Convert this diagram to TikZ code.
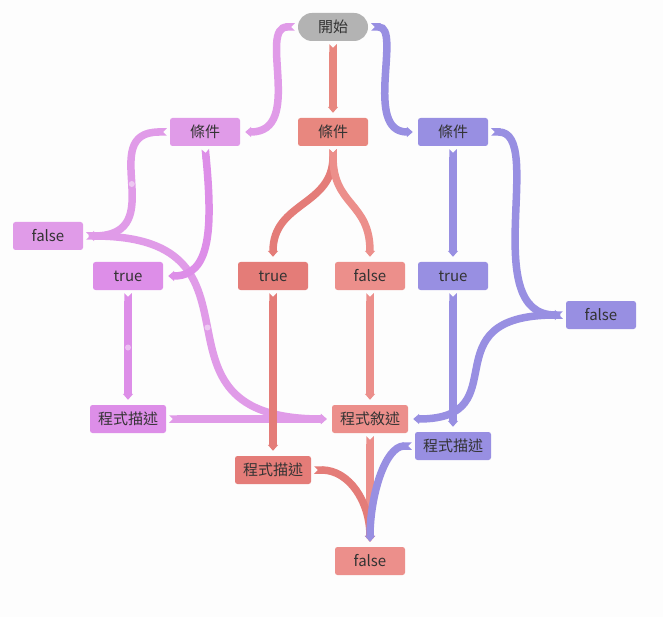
\documentclass[tikz,border=0pt]{standalone}
\usepackage{fontspec}
\setmainfont{Noto Sans CJK TC}
\usetikzlibrary{arrows.meta}

\definecolor{bgcol}{HTML}{FDFDFD}
\definecolor{txt}{HTML}{333333}
\definecolor{gray0}{HTML}{B3B3B3}
\definecolor{orchA}{HTML}{E09BE8}
\definecolor{orchB}{HTML}{DD8EE8}
\definecolor{redA}{HTML}{E8877F}
\definecolor{redB}{HTML}{E47C78}
\definecolor{redC}{HTML}{EC8F8B}
\definecolor{purp}{HTML}{988FE2}

\pgfdeclarelayer{back}
\pgfdeclarelayer{links}
\pgfsetlayers{back,links,main}

\tikzset{
  box/.style={rectangle, rounded corners=2.5pt, minimum width=70pt,
    minimum height=28pt, inner sep=0pt, text=txt,
    font=\fontsize{15}{17}\selectfont},
  widebox/.style={box, minimum width=76pt},
  pill/.style={box, rounded corners=14pt},
  link/.style={line width=7.5pt, shorten <=3pt, shorten >=5pt,
    arrows={Triangle Cap[reversed]-Triangle[width=10pt,length=6pt]}},
  middot/.style={circle, fill=white, fill opacity=0.45, inner sep=0pt,
    minimum size=6pt},
}

\begin{document}
\begin{tikzpicture}[x=1pt,y=-1pt]
\begin{pgfonlayer}{back}
  \fill[bgcol] (0,0) rectangle (663,617);
\end{pgfonlayer}
\useasboundingbox (0,0) rectangle (663,617);

% nodes
\node[pill, fill=gray0]   (start) at (333,27)  {開始};
\node[box, fill=orchA]    (c1)    at (205,132) {條件};
\node[box, fill=redA]     (c2)    at (333,132) {條件};
\node[box, fill=purp]     (c3)    at (453,132) {條件};
\node[box, fill=orchA]    (f1)    at (48,236)  {false};
\node[box, fill=orchB]    (t1)    at (128,276) {true};
\node[box, fill=redB]     (t2)    at (273,276) {true};
\node[box, fill=redC]     (f2)    at (370,276) {false};
\node[box, fill=purp]     (t3)    at (453,276) {true};
\node[box, fill=purp]     (f3)    at (601,315) {false};
\node[widebox, fill=orchB] (d1)   at (128,419) {程式描述};
\node[widebox, fill=redC]  (s)    at (370,419) {程式敘述};
\node[widebox, fill=purp]  (d3)   at (453,446) {程式描述};
\node[widebox, fill=redB]  (d2)   at (273,470) {程式描述};
\node[box, fill=redC]     (fb)    at (370,561) {false};

\begin{pgfonlayer}{links}
  % left branch
  \draw[link, orchA] (start.west) .. controls +(-40,0) and +(64,0) .. (c1.east);
  \draw[link, orchA] (c1.west) .. controls +(-75,0) and +(89,0) .. (f1.east)
    node[middot, pos=0.5] {};
  \draw[link, orchA] (f1.east) .. controls +(202,0) and +(-202,0) .. (s.west)
    node[middot, pos=0.5] {};
  \draw[link, orchA] (d1.east) -- (s.west);
  \draw[link, orchB] (c1.south) .. controls +(8,84) and +(47,0) .. (t1.east);
  \draw[link, orchB] (t1.south) -- (d1.north) node[middot, pos=0.5] {};
  % middle branch
  \draw[link, redA] (start.south) -- (c2.north);
  \draw[link, redB] (c2.south) .. controls +(0,60) and +(0,-60) .. (t2.north);
  \draw[link, redC] (c2.south) .. controls +(0,60) and +(0,-60) .. (f2.north);
  \draw[link, redB] (t2.south) -- (d2.north);
  \draw[link, redC] (f2.south) -- (s.north);
  \draw[link, redC] (s.south) -- (fb.north);
  \draw[link, redB] (d2.east) .. controls +(38,0) and +(0,-45) .. (fb.north);
  % right branch
  \draw[link, purp] (start.east) .. controls +(34,0) and +(-55,0) .. (c3.west);
  \draw[link, purp] (c3.south) -- (t3.north);
  \draw[link, purp] (t3.south) -- (d3.north);
  \draw[link, purp] (c3.east) .. controls +(57,0) and +(-88,0) .. (f3.west);
  \draw[link, purp] (f3.west) .. controls +(-140,0) and +(112,0) .. (s.east);
  \draw[link, purp] (d3.west) .. controls +(-30,0) and +(0,-50) .. (fb.north);
\end{pgfonlayer}
\end{tikzpicture}
\end{document}
